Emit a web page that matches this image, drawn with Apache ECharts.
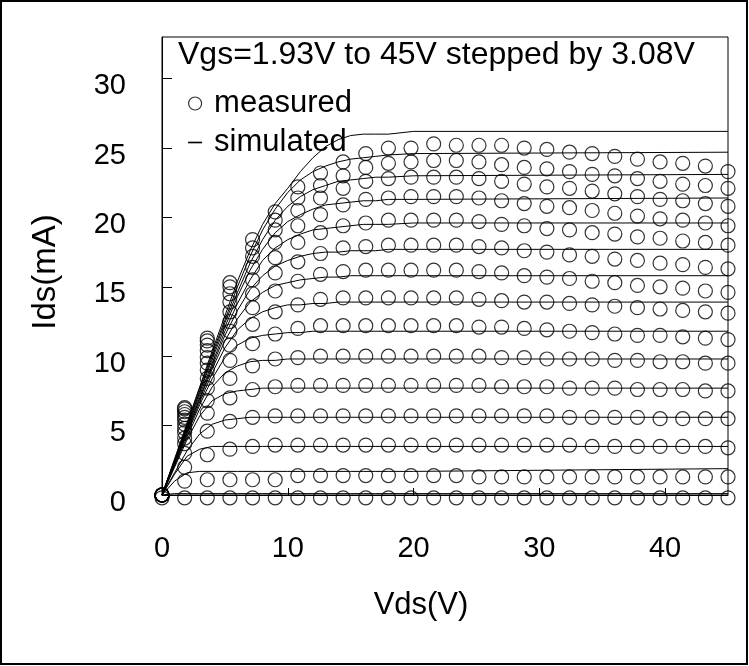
<!DOCTYPE html>
<html><head><meta charset="utf-8">
<script src="https://cdn.jsdelivr.net/npm/echarts@6/dist/echarts.min.js"></script>
<style>html,body{margin:0;padding:0;background:#fff}#c{width:749px;height:666px}</style>
</head><body><div id="c"></div>
<script>
// Vgs steps (V)
const vgsSteps = [1.93, 5.01, 8.09, 11.17, 14.25, 17.33, 20.41, 23.49, 26.57, 29.65, 32.73, 35.81, 38.89, 41.97, 45.05];

// Vds of measured points (V)
const vdsMeasured = [0, 1.8, 3.6, 5.4, 7.2, 9, 10.8, 12.6, 14.4, 16.2, 18, 19.8, 21.6, 23.4, 25.2, 27, 28.8, 30.6, 32.4, 34.2, 36, 37.8, 39.6, 41.4, 43.2, 45];
// Vds of simulated curve samples (V)
const vdsSimulated = [0, 1, 2, 3, 4, 5, 6, 7, 8, 9, 10, 11, 12, 13, 14, 15, 16, 17, 18, 20, 45];

// measured Ids (mA), one array per Vgs
const meas01 = [-0.2,-0.2,-0.2,-0.2,-0.2,-0.2,-0.2,-0.2,-0.2,-0.2,-0.2,-0.2,-0.2,-0.2,-0.2,-0.2,-0.2,-0.2,-0.2,-0.2,-0.2,-0.2,-0.2,-0.2,-0.2,-0.2];
const meas02 = [0, 1.0, 1.1, 1.1, 1.1, 1.1, 1.4, 1.4, 1.4, 1.4, 1.4, 1.4, 1.4, 1.4, 1.3, 1.3, 1.3, 1.3, 1.3, 1.3, 1.3, 1.3, 1.3, 1.3, 1.3, 1.3];
const meas03 = [0, 2.0, 2.9, 3.3, 3.5, 3.6, 3.6, 3.6, 3.6, 3.6, 3.6, 3.6, 3.6, 3.6, 3.6, 3.6, 3.6, 3.6, 3.6, 3.5, 3.5, 3.5, 3.5, 3.5, 3.5, 3.4];
const meas04 = [0, 3.0, 4.6, 5.3, 5.6, 5.7, 5.7, 5.7, 5.7, 5.7, 5.7, 5.7, 5.7, 5.7, 5.7, 5.7, 5.7, 5.7, 5.6, 5.6, 5.6, 5.6, 5.5, 5.5, 5.5, 5.5];
const meas05 = [0, 3.7, 5.9, 7.0, 7.6, 7.8, 7.9, 7.9, 7.9, 7.9, 7.9, 7.9, 7.9, 7.9, 7.9, 7.8, 7.8, 7.8, 7.7, 7.7, 7.7, 7.6, 7.6, 7.6, 7.5, 7.5];
const meas06 = [0, 4.1, 6.8, 8.4, 9.3, 9.8, 9.9, 10.0, 10.0, 10.0, 10.0, 10.0, 10.0, 10.0, 10.0, 9.9, 9.9, 9.8, 9.8, 9.8, 9.7, 9.7, 9.6, 9.6, 9.5, 9.5];
const meas07 = [0, 4.5, 7.7, 9.7, 10.9, 11.6, 12.0, 12.2, 12.2, 12.2, 12.2, 12.2, 12.2, 12.2, 12.1, 12.1, 12.0, 11.9, 11.8, 11.7, 11.6, 11.5, 11.5, 11.4, 11.3, 11.2];
const meas08 = [0, 4.8, 8.4, 10.8, 12.3, 13.2, 13.7, 14.1, 14.2, 14.2, 14.2, 14.2, 14.2, 14.2, 14.1, 14.0, 13.9, 13.9, 13.8, 13.7, 13.6, 13.5, 13.4, 13.3, 13.2, 13.1];
const meas09 = [0, 5.1, 9.0, 11.8, 13.5, 14.7, 15.4, 15.9, 16.1, 16.2, 16.2, 16.2, 16.2, 16.2, 16.1, 16.0, 15.8, 15.7, 15.6, 15.4, 15.3, 15.1, 15.0, 14.9, 14.7, 14.6];
const meas10 = [0, 5.4, 9.5, 12.5, 14.5, 16.0, 16.8, 17.4, 17.8, 17.9, 18.0, 18.0, 18.0, 18.0, 17.9, 17.8, 17.6, 17.5, 17.3, 17.2, 17.0, 16.9, 16.7, 16.6, 16.4, 16.3];
const meas11 = [0, 5.6, 9.9, 13.2, 15.5, 17.1, 18.2, 18.9, 19.4, 19.6, 19.8, 19.8, 19.8, 19.8, 19.7, 19.5, 19.4, 19.2, 19.1, 18.9, 18.8, 18.6, 18.5, 18.3, 18.2, 18.0];
const meas12 = [0, 5.8, 10.4, 13.9, 16.4, 18.2, 19.4, 20.2, 20.9, 21.3, 21.4, 21.5, 21.5, 21.5, 21.4, 21.2, 21.0, 20.8, 20.7, 20.5, 20.3, 20.1, 19.9, 19.8, 19.6, 19.4];
const meas13 = [0, 6.0, 10.8, 14.5, 17.2, 19.1, 20.5, 21.4, 22.1, 22.6, 22.8, 22.9, 22.9, 22.9, 22.8, 22.6, 22.4, 22.2, 22.1, 21.9, 21.7, 21.5, 21.3, 21.2, 21.0, 20.8];
const meas14 = [0, 6.2, 11.1, 15.0, 17.8, 19.8, 21.4, 22.3, 23.0, 23.6, 23.9, 24.0, 24.1, 24.1, 24.0, 23.8, 23.6, 23.5, 23.3, 23.1, 23.0, 22.8, 22.6, 22.4, 22.3, 22.1];
const meas15 = [0, 6.3, 11.3, 15.3, 18.4, 20.4, 22.2, 23.2, 24.0, 24.6, 25.0, 25.0, 25.3, 25.2, 25.2, 25.2, 25.0, 24.9, 24.7, 24.6, 24.4, 24.2, 24.0, 23.9, 23.7, 23.3];

// simulated Ids (mA), one array per Vgs
const sim01 = [0, 0.1, 0.1, 0.1, 0.1, 0.1, 0.1, 0.1, 0.1, 0.1, 0.1, 0.1, 0.1, 0.1, 0.1, 0.1, 0.1, 0.1, 0.1, 0.1, 0.1];
const sim02 = [0, 1.0, 1.6, 1.7, 1.7, 1.7, 1.7, 1.7, 1.7, 1.7, 1.7, 1.7, 1.7, 1.7, 1.7, 1.7, 1.7, 1.7, 1.7, 1.7, 1.9];
const sim03 = [0, 1.5, 2.8, 3.3, 3.5, 3.5, 3.5, 3.5, 3.5, 3.5, 3.5, 3.5, 3.5, 3.5, 3.5, 3.5, 3.5, 3.5, 3.5, 3.5, 3.5];
const sim04 = [0, 1.6, 3.2, 4.4, 5.1, 5.4, 5.5, 5.6, 5.6, 5.6, 5.6, 5.6, 5.6, 5.6, 5.6, 5.6, 5.6, 5.6, 5.6, 5.6, 5.6];
const sim05 = [0, 2.0, 4.0, 5.7, 6.8, 7.3, 7.5, 7.6, 7.7, 7.7, 7.7, 7.7, 7.7, 7.7, 7.7, 7.7, 7.7, 7.7, 7.7, 7.7, 7.7];
const sim06 = [0, 2.1, 4.2, 6.2, 7.8, 8.8, 9.3, 9.6, 9.7, 9.7, 9.8, 9.8, 9.8, 9.8, 9.8, 9.8, 9.8, 9.8, 9.8, 9.8, 9.8];
const sim07 = [0, 2.2, 4.4, 6.5, 8.4, 9.9, 10.8, 11.3, 11.5, 11.6, 11.7, 11.7, 11.8, 11.8, 11.8, 11.8, 11.8, 11.8, 11.8, 11.8, 11.8];
const sim08 = [0, 2.2, 4.5, 6.7, 8.8, 10.6, 11.9, 12.7, 13.2, 13.5, 13.7, 13.7, 13.8, 13.8, 13.9, 13.9, 13.9, 13.9, 13.9, 13.9, 13.9];
const sim09 = [0, 2.3, 4.6, 6.9, 9.1, 11.1, 12.7, 13.9, 14.6, 15.1, 15.3, 15.5, 15.6, 15.7, 15.7, 15.8, 15.8, 15.8, 15.8, 15.8, 15.8];
const sim10 = [0, 2.4, 4.7, 7.0, 9.3, 11.5, 13.3, 14.8, 15.8, 16.5, 16.9, 17.2, 17.4, 17.5, 17.5, 17.6, 17.6, 17.6, 17.7, 17.7, 17.7];
const sim11 = [0, 2.4, 4.8, 7.2, 9.5, 11.8, 13.8, 15.5, 16.9, 17.8, 18.4, 18.8, 19.1, 19.2, 19.3, 19.4, 19.5, 19.5, 19.5, 19.6, 19.6];
const sim12 = [0, 2.5, 4.9, 7.4, 9.8, 12.1, 14.3, 16.2, 17.7, 18.9, 19.7, 20.2, 20.6, 20.9, 21.0, 21.1, 21.2, 21.2, 21.3, 21.3, 21.4];
const sim13 = [0, 2.5, 5.0, 7.5, 10.0, 12.4, 14.6, 16.7, 18.4, 19.8, 20.8, 21.5, 22.0, 22.3, 22.6, 22.7, 22.8, 22.9, 22.9, 23.0, 23.1];
const sim14 = [0, 2.5, 5.1, 7.7, 10.2, 12.6, 15.0, 17.2, 19.1, 20.6, 21.8, 22.7, 23.3, 23.7, 24.0, 24.2, 24.3, 24.4, 24.5, 24.6, 24.7];
const sim15 = [0, 2.6, 5.2, 7.8, 10.4, 12.9, 15.4, 17.6, 19.5, 21.0, 22.1, 23.3, 24.3, 25.1, 25.6, 25.9, 26.0, 26.0, 26.0, 26.2, 26.2];

// axis tick labels
const xTickValues = [0, 10, 20, 30, 40];
const yTickValues = [0, 5, 10, 15, 20, 25, 30];

const measuredSets = [meas01, meas02, meas03, meas04, meas05, meas06, meas07, meas08, meas09, meas10, meas11, meas12, meas13, meas14, meas15];
const simulatedSets = [sim01, sim02, sim03, sim04, sim05, sim06, sim07, sim08, sim09, sim10, sim11, sim12, sim13, sim14, sim15];

const FONT = 'Liberation Sans, Arial, sans-serif';
const series = [];
simulatedSets.forEach((arr, i) => {
  series.push({
    name: 'simulated', id: 'sim_' + vgsSteps[i], type: 'line',
    data: arr.map((v, j) => [vdsSimulated[j], v]),
    showSymbol: false, symbol: 'none', smooth: false,
    lineStyle: { color: '#000', width: 1 }, itemStyle: { color: '#000' },
    silent: true, z: 2
  });
});
measuredSets.forEach((arr, i) => {
  series.push({
    name: 'measured', id: 'meas_' + vgsSteps[i], type: 'scatter',
    data: arr.map((v, j) => [vdsMeasured[j], v]),
    symbol: 'circle', symbolSize: 14, clip: false,
    itemStyle: { color: 'rgba(0,0,0,0)', borderColor: '#000', borderWidth: 1.2 },
    silent: true, z: 3
  });
});

const chart = echarts.init(document.getElementById('c'), null, { renderer: 'canvas' });
chart.setOption({
  animation: false,
  backgroundColor: '#fff',
  title: {
    text: 'Vgs=1.93V to 45V stepped by 3.08V',
    left: 178, top: 39, padding: 0,
    textStyle: { fontFamily: FONT, fontSize: 32, fontWeight: 'normal', color: '#000' }
  },
  legend: {
    orient: 'vertical', left: 188, top: 88, padding: 0,
    itemWidth: 14, itemHeight: 13, itemGap: 8,
    textStyle: { fontFamily: FONT, fontSize: 31, color: '#000', padding: [0, 0, 0, 7] },
    selectedMode: false,
    data: [
      { name: 'measured', icon: 'circle', itemStyle: { color: 'rgba(0,0,0,0)', borderColor: '#000', borderWidth: 1.2 } },
      { name: 'simulated', icon: 'path://M0,0L12,0L12,1.4L0,1.4Z', itemStyle: { color: '#000' } }
    ]
  },
  grid: { left: 162, right: 21, top: 37, bottom: 171, show: true, borderColor: '#000', borderWidth: 1, backgroundColor: 'transparent' },
  xAxis: {
    type: 'value', min: 0, max: 45, interval: 10,
    name: 'Vds(V)', nameLocation: 'middle', nameGap: 95, nameMoveOverlap: false,
    nameTextStyle: { fontFamily: FONT, fontSize: 31, color: '#000', padding: [0, 48, 0, 0] },
    axisLine: { show: true, lineStyle: { color: '#000', width: 1 } },
    axisTick: { show: true, inside: true, length: 7, lineStyle: { color: '#000' } },
    axisLabel: { fontFamily: FONT, fontSize: 29, color: '#000', margin: 39, showMaxLabel: false,
      formatter: v => xTickValues.includes(v) ? String(v) : '' },
    splitLine: { show: false }
  },
  yAxis: {
    type: 'value', min: 0, max: 33, interval: 5,
    name: 'Ids(mA)', nameLocation: 'middle', nameGap: 100, nameMoveOverlap: false,
    nameTextStyle: { fontFamily: FONT, fontSize: 33, color: '#000', padding: [0, 12, 0, 0] },
    axisLine: { show: true, lineStyle: { color: '#000', width: 1 } },
    axisTick: { show: true, inside: true, length: 10, lineStyle: { color: '#000' } },
    axisLabel: { fontFamily: FONT, fontSize: 29, color: '#000', margin: 36, showMaxLabel: false,
      verticalAlign: 'top', lineHeight: 15,
      formatter: v => yTickValues.includes(v) ? String(v) : '' },
    splitLine: { show: false }
  },
  graphic: [{
    type: 'rect', silent: true, z: 100,
    shape: { x: 1, y: 1, width: 746, height: 663 },
    style: { fill: 'none', stroke: '#000', lineWidth: 2 }
  }],
  series: series
});
</script>
</body></html>
